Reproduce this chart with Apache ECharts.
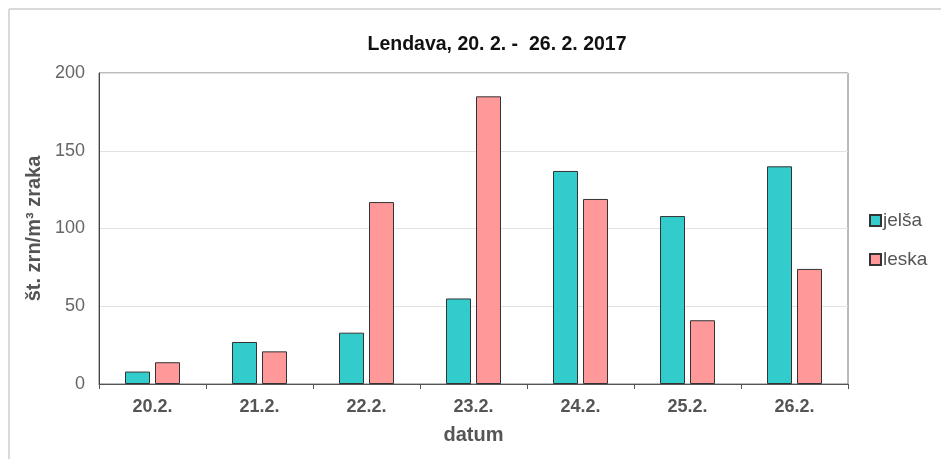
<!DOCTYPE html>
<html>
<head>
<meta charset="utf-8">
<script src="https://cdn.jsdelivr.net/npm/echarts@6/dist/echarts.min.js"></script>
<style>
  html, body { margin: 0; padding: 0; background: #fff; }
  #chart { width: 941px; height: 459px; }
</style>
</head>
<body>
<div id="chart"></div>
<script>
const days = ["20.2.", "21.2.", "22.2.", "23.2.", "24.2.", "25.2.", "26.2."];
const jelsa = [8, 27, 33, 55, 137, 108, 140];
const leska = [14, 21, 117, 185, 119, 41, 74];

const chart = echarts.init(document.getElementById("chart"));
const font = "Liberation Sans, Arial, sans-serif";

chart.setOption({
  backgroundColor: "#fff",
  textStyle: { fontFamily: font },
  animation: false,
  title: {
    text: "Lendava, 20. 2. -  26. 2. 2017",
    left: 492,
    textAlign: "center",
    top: 30,
    textStyle: { fontSize: 19.5, fontWeight: "bold", color: "#111", fontFamily: font }
  },
  graphic: [
    { type: "line", shape: { x1: 9, y1: 9, x2: 941, y2: 9 }, style: { stroke: "#d9d9d9", lineWidth: 2 } },
    { type: "line", shape: { x1: 9, y1: 9, x2: 9, y2: 459 }, style: { stroke: "#d9d9d9", lineWidth: 2 } }
  ],
  legend: {
    orient: "vertical",
    left: 864,
    top: 206,
    itemWidth: 11,
    itemHeight: 11,
    itemGap: 20,
    icon: "rect",
    textStyle: { fontSize: 19, color: "#555", fontFamily: font, padding: [0, 0, 0, -3] },
    data: ["jelša", "leska"]
  },
  grid: {
    left: 99, top: 73, right: 93, bottom: 75,
    show: true, borderColor: "#777", borderWidth: 1
  },
  xAxis: {
    type: "category",
    data: days,
    name: "datum",
    nameLocation: "middle",
    nameGap: 41,
    nameTextStyle: { fontSize: 20, fontWeight: "bold", color: "#555" },
    axisLine: { lineStyle: { color: "#555" } },
    axisTick: { show: true, length: 5, lineStyle: { color: "#555" } },
    axisLabel: { fontSize: 18, fontWeight: "bold", color: "#555", margin: 14 }
  },
  yAxis: {
    type: "value",
    min: 0, max: 200, interval: 50,
    name: "št. zrn/m³ zraka",
    nameLocation: "middle",
    nameGap: 37,
    nameTextStyle: { fontSize: 20, fontWeight: "bold", color: "#555" },
    axisLine: { show: true, lineStyle: { color: "#444" } },
    axisTick: { show: false },
    axisLabel: { fontSize: 18, color: "#666", margin: 14 },
    splitLine: { lineStyle: { color: "#e2e2e2" } }
  },
  series: [
    {
      name: "jelša", type: "bar", data: jelsa,
      barWidth: 25, barGap: "20%",
      itemStyle: { color: "#33CCCC", borderColor: "#333", borderWidth: 1 }
    },
    {
      name: "leska", type: "bar", data: leska,
      barWidth: 25,
      itemStyle: { color: "#FF9999", borderColor: "#333", borderWidth: 1 }
    }
  ]
});
</script>
</body>
</html>
